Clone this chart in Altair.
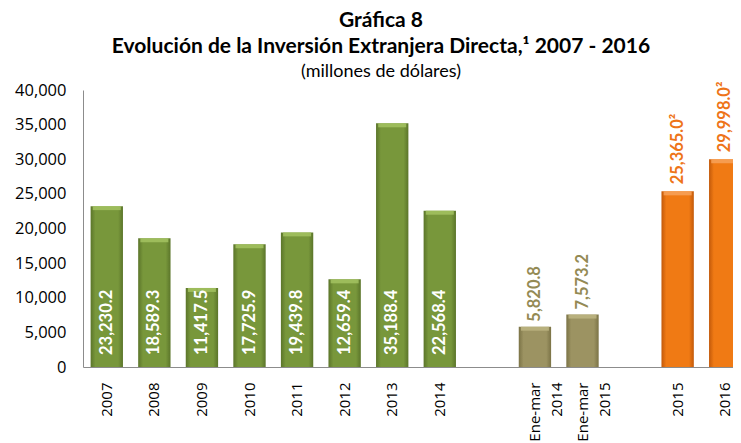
import altair as alt
import pandas as pd

# ---- data ----
categories = ["2007", "2008", "2009", "2010", "2011", "2012", "2013", "2014",
              "Ene-mar 2014", "Ene-mar 2015", "2015", "2016"]
values = [23230.2, 18589.3, 11417.5, 17725.9, 19439.8, 12659.4, 35188.4, 22568.4,
          5820.8, 7573.2, 25365.0, 29998.0]
groups = ["anual"] * 8 + ["enemar"] * 2 + ["prelim"] * 2
notes = [""] * 10 + ["²", "²"]
x_domain = ["2007", "2008", "2009", "2010", "2011", "2012", "2013", "2014", "gap1",
            "Ene-mar 2014", "Ene-mar 2015", "gap2", "2015", "2016"]
y_ticks = [0, 5000, 10000, 15000, 20000, 25000, 30000, 35000, 40000]

df = pd.DataFrame({
    "cat": categories,
    "value": values,
    "group": groups,
    "label": [f"{v:,.1f}{n}" for v, n in zip(values, notes)],
    "base": [0] * len(values),
})

NB = "\u00a0"
label_expr = ("indexof(datum.value,'gap')==0 ? '' : "
              "(indexof(datum.value,' ')>0 ? [split(datum.value,' ')[0], split(datum.value,' ')[1] + '"
              + NB * 4 + "'] : datum.value)")

x = alt.X("cat:N", sort=x_domain,
          scale=alt.Scale(domain=x_domain, range=[0, 666], paddingInner=0.32, paddingOuter=0.16),
          axis=alt.Axis(title=None, labelAngle=-90, labelFont="Open Sans", labelFontSize=15,
                        labelColor="#000000", ticks=False, domainColor="#8c8c8c", labelPadding=15,
                        labelLineHeight=22, labelExpr=label_expr, labelOverlap=False, labelLimit=0))
yscale = alt.Scale(domain=[0, 40000], nice=False)
yaxis = alt.Axis(title=None, values=y_ticks, format=",.0f", labelFont="Open Sans",
                 labelFontSize=16.5, labelColor="#000000", ticks=False, grid=False,
                 labelOverlap=False, domainColor="#8c8c8c", labelPadding=17)
y = alt.Y("value:Q", scale=yscale, axis=yaxis)


def grad(edge, body):
    return alt.LinearGradient(gradient="linear", x1=0, x2=1, y1=0, y2=0,
                              stops=[alt.GradientStop(color=edge, offset=0),
                                     alt.GradientStop(color=body, offset=0.15),
                                     alt.GradientStop(color=body, offset=0.85),
                                     alt.GradientStop(color=edge, offset=1)])


base = alt.Chart(df)

bars_green = base.transform_filter("datum.group=='anual'").mark_bar(
    color=grad("#5b752a", "#78973b")).encode(x=x, y=y)
bars_olive = base.transform_filter("datum.group=='enemar'").mark_bar(
    color=grad("#7b7346", "#9c9362")).encode(x=x, y=y)
bars_orange = base.transform_filter("datum.group=='prelim'").mark_bar(
    color=grad("#c2590a", "#f07a14")).encode(x=x, y=y)

tops = base.mark_tick(thickness=4, size=28, yOffset=2, opacity=0.85).encode(
    x=x, y=y,
    color=alt.Color("group:N", legend=None,
                    scale=alt.Scale(domain=["anual", "enemar", "prelim"],
                                    range=["#a3c262", "#bdb583", "#f7a25a"])))

text_green = base.transform_filter("datum.group=='anual'").mark_text(
    angle=270, align="left", baseline="middle", dx=12, font="Lato", fontSize=16.5,
    fontWeight="bold", color="white").encode(x=x, y=alt.Y("base:Q", scale=yscale, axis=yaxis),
                                             text="label:N")
text_olive = base.transform_filter("datum.group=='enemar'").mark_text(
    angle=270, align="left", baseline="middle", dx=5, font="Lato", fontSize=16.5,
    fontWeight="bold", color="#948a54").encode(x=x, y=y, text="label:N")
text_orange = base.transform_filter("datum.group=='prelim'").mark_text(
    angle=270, align="left", baseline="middle", dx=7, font="Lato", fontSize=16.5,
    fontWeight="bold", color="#ee7418").encode(x=x, y=y, text="label:N")

chart = alt.layer(bars_green, bars_olive, bars_orange, tops, text_green, text_olive, text_orange).properties(
    width=650, height=277,
    padding={"left": 75, "top": 82, "right": 0, "bottom": 76},
    autosize=alt.AutoSizeParams(type="none"),
    title=alt.Title(
        text=["Gráfica 8", "Evolución de la Inversión Extranjera Directa,¹ 2007 - 2016"],
        subtitle="(millones de dólares)",
        font="Lato", fontSize=21, fontWeight="bold", color="#000000", lineHeight=25.5,
        subtitleFont="Lato", subtitleFontSize=18, subtitleColor="#000000", subtitlePadding=6,
        anchor="middle", dx=-27, offset=1),
).configure_view(stroke=None)

chart.save("out.html", embed_options={"renderer": "svg", "actions": False})
